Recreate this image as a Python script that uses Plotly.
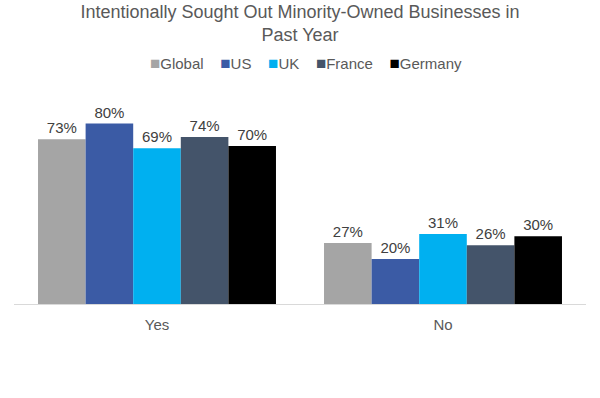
import plotly.graph_objects as go

categories = ["Yes", "No"]
series_names = ["Global", "US", "UK", "France", "Germany"]
global_vals = [73, 27]
us_vals = [80, 20]
uk_vals = [69, 31]
france_vals = [74, 26]
germany_vals = [70, 30]
colors = ["#A5A5A5", "#3B5BA5", "#00B0F0", "#44546A", "#000000"]

all_vals = [global_vals, us_vals, uk_vals, france_vals, germany_vals]

fig = go.Figure()
for name, vals, c in zip(series_names, all_vals, colors):
    fig.add_trace(go.Bar(
        x=categories, y=vals, name=name, marker_color=c, marker_line_width=0,
        text=[f"{v}%" for v in vals], textposition="outside", cliponaxis=False,
        textfont=dict(size=15, color="#404040"), showlegend=False,
    ))

legend_text = "&nbsp;&nbsp;&nbsp;&nbsp;".join(
    f"<span style='color:{c};font-size:17px'>■</span>{n}" for n, c in zip(series_names, colors)
)
fig.add_annotation(
    text=legend_text, xref="paper", yref="paper", x=0.51, y=1.187,
    xanchor="center", yanchor="middle", showarrow=False,
    font=dict(size=15, color="#595959"),
)

fig.update_layout(
    width=600, height=398,
    font=dict(family="Liberation Sans, Arial, sans-serif", color="#595959"),
    title=dict(text="Intentionally Sought Out Minority-Owned Businesses in<br>Past Year",
               xref="container", x=0.5, xanchor="center",
               yref="container", y=0.955, yanchor="middle",
               font=dict(size=18, color="#595959")),
    barmode="group", bargap=0.168, bargroupgap=0,
    plot_bgcolor="white", paper_bgcolor="white",
    margin=dict(l=14, r=14, t=101, b=94),
    xaxis=dict(showline=True, linecolor="#D9D9D9", linewidth=1,
               ticks="outside", ticklen=7, tickcolor="rgba(0,0,0,0)",
               tickfont=dict(size=15, color="#595959")),
    yaxis=dict(range=[0, 90], visible=False),
)

fig.write_html("out.html", config={"displayModeBar": False},
               post_script="document.body.style.margin='0';")
